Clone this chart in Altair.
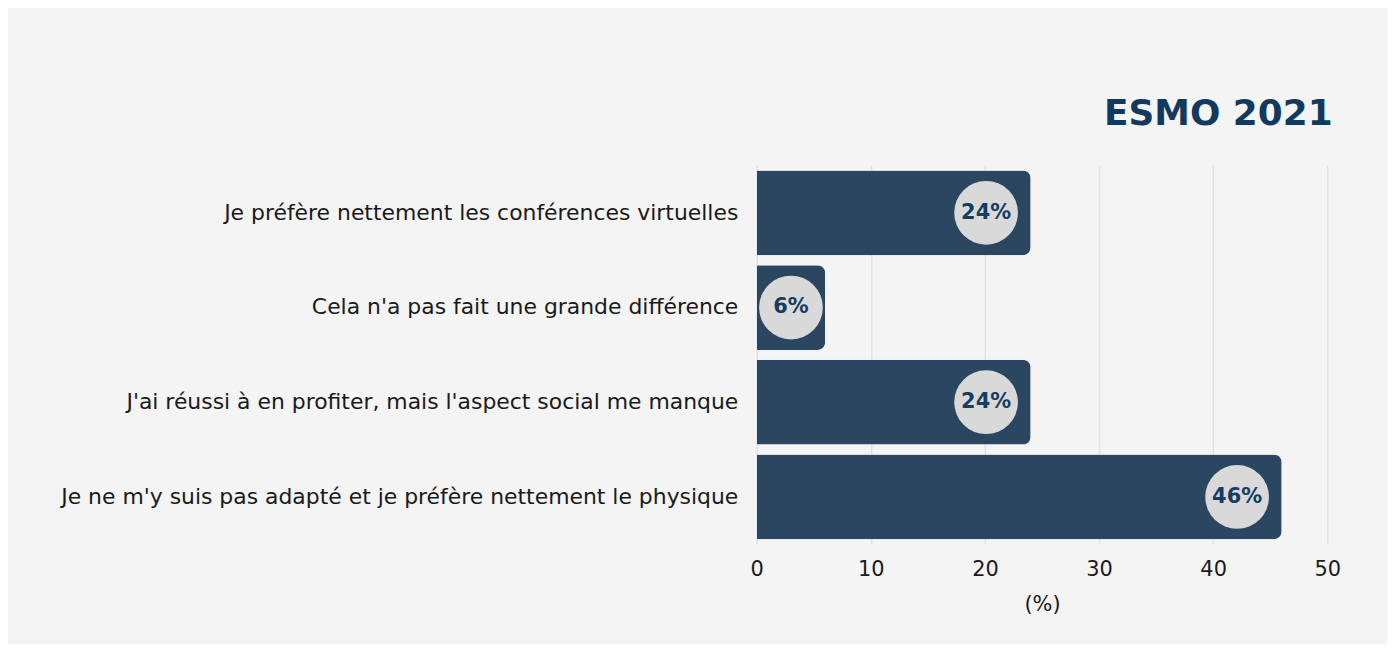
import altair as alt
import pandas as pd

categories = [
    "Je préfère nettement les conférences virtuelles",
    "Cela n'a pas fait une grande différence",
    "J'ai réussi à en profiter, mais l'aspect social me manque",
    "Je ne m'y suis pas adapté et je préfère nettement le physique",
]
values = [24, 6, 24, 46]
labels = ["24%", "6%", "24%", "46%"]

df = pd.DataFrame({"cat": categories, "val": values, "lab": labels})

FONT = "DejaVu Sans"
y_enc = alt.Y(
    "cat:N",
    sort=categories,
    title=None,
    scale=alt.Scale(paddingInner=0.105, paddingOuter=0.05),
    axis=alt.Axis(
        labelFont=FONT, labelFontSize=22, labelColor="#1a1a1a",
        labelPadding=19, ticks=False, domain=False, labelLimit=800,
        minExtent=740, maxExtent=740,
    ),
)

x_scale = alt.Scale(domain=[0, 50], nice=False)

bars = alt.Chart(df).mark_bar(color="#2a4660", cornerRadiusEnd=8).encode(
    x=alt.X(
        "val:Q", scale=x_scale, title="(%)",
        axis=alt.Axis(
            values=[0, 10, 20, 30, 40, 50], labelFont=FONT, labelFontSize=21,
            labelColor="#1a1a1a", titleFont=FONT, titleFontSize=21,
            titleFontWeight="normal", titleColor="#1a1a1a", titlePadding=14,
            labelPadding=15, ticks=False, domain=False, grid=True,
            gridColor="#dedede", gridWidth=1.2, labelFlush=False,
        ),
    ),
    y=y_enc,
)

pos = alt.Chart(df).transform_calculate(
    p="max(datum.val - 3.9, datum.val / 2)"
)

circles = pos.mark_circle(color="#d9d9d9", opacity=1, size=4100).encode(
    x=alt.X("p:Q", scale=x_scale), y=alt.Y("cat:N", sort=categories)
)

texts = pos.mark_text(
    font=FONT, fontSize=21, fontWeight="bold", color="#143d61"
).encode(
    x=alt.X("p:Q", scale=x_scale), y=alt.Y("cat:N", sort=categories), text="lab:N"
)

chart = alt.layer(bars, circles, texts).properties(
    width=573,
    height=380,
    padding={"left": 12, "top": 87, "right": 46, "bottom": 28},
    background="#f4f4f4",
    title=alt.TitleParams(
        "ESMO 2021", anchor="end", font=FONT, fontSize=36, fontWeight="bold",
        color="#123a5c", offset=33, dx=-8,
    ),
).configure_view(stroke=None)

chart.save("out.html", embed_options={"renderer": "svg", "actions": False})
